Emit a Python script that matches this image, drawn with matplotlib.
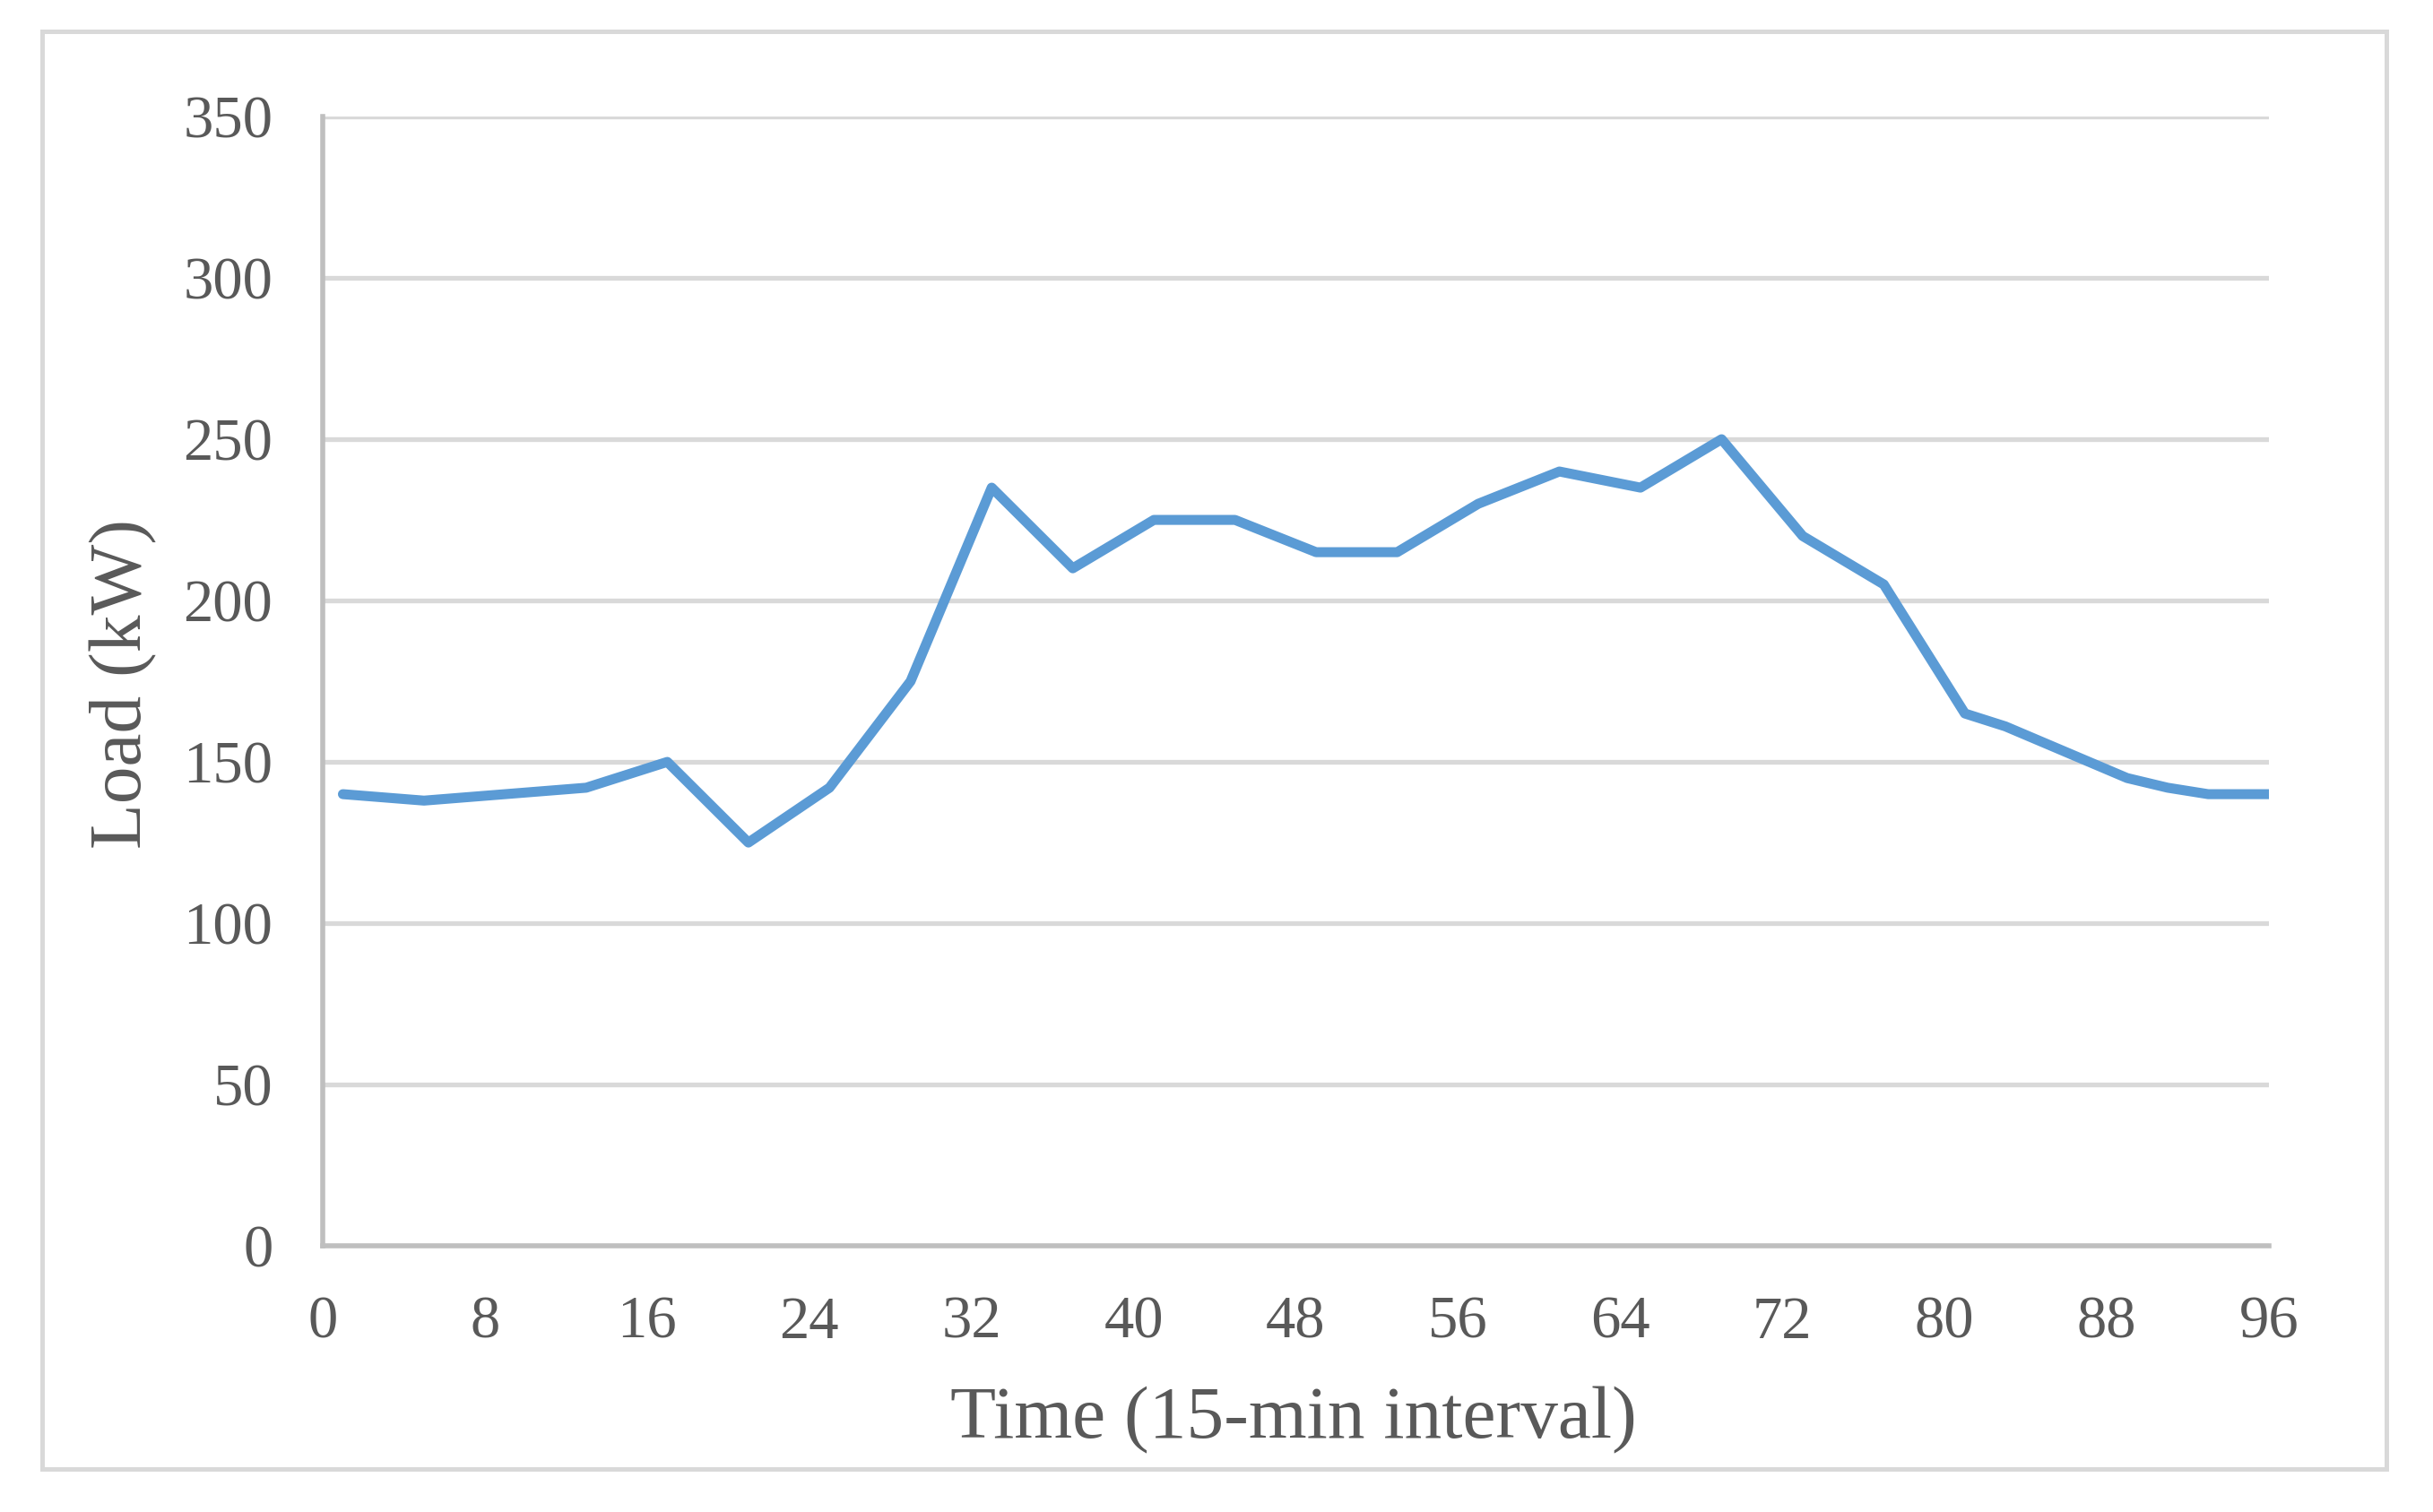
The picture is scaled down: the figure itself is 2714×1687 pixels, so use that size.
import matplotlib
matplotlib.use("Agg")
import matplotlib.pyplot as plt
from matplotlib.patches import Rectangle

# Data
time_idx = [1, 5, 9, 13, 17, 21, 25, 29, 33, 37, 41, 45, 49, 53, 57, 61, 65, 69,
            73, 77, 81, 83, 89, 91, 93, 96]
load_kw = [140, 138, 140, 142, 150, 125, 142, 175, 235, 210, 225, 225, 215, 215,
           230, 240, 235, 250, 220, 205, 165, 161, 145, 142, 140, 140]
x_ticks = [0, 8, 16, 24, 32, 40, 48, 56, 64, 72, 80, 88, 96]
y_ticks = [0, 50, 100, 150, 200, 250, 300, 350]

plt.rcParams['font.family'] = ['Liberation Serif', 'DejaVu Serif']

fig = plt.figure(figsize=(13.57, 8.435), dpi=200)
ax = fig.add_axes([0.1326, 0.176, 0.80, 0.7469])

ax.plot(time_idx, load_kw, color='#5B9BD5', lw=4.0, solid_joinstyle='round',
        solid_capstyle='round', zorder=3)

ax.set_xlim(0, 96)
ax.set_ylim(0, 350)
ax.set_xticks(x_ticks)
ax.set_yticks(y_ticks)
ax.grid(axis='y', color='#D9D9D9', lw=1.9, zorder=0)
ax.set_axisbelow(True)
ax.tick_params(length=0, labelsize=24, colors='#595959')
ax.tick_params(axis='y', pad=20)
ax.tick_params(axis='x', pad=20)

for s in ['top', 'right']:
    ax.spines[s].set_visible(False)
for s in ['left', 'bottom']:
    ax.spines[s].set_color('#BFBFBF')
    ax.spines[s].set_linewidth(2.0)
    ax.spines[s].set_zorder(2)

ax.set_xlabel('Time (15-min interval)', fontsize=30, color='#595959')
ax.set_ylabel('Load (kW)', fontsize=30, color='#595959')
ax.xaxis.set_label_coords(0.499, -0.154)
ax.yaxis.set_label_coords(-0.1025, 0.498)
ax.xaxis.label.set_va('center')
ax.yaxis.label.set_va('center')

fig.patches.append(Rectangle((0.0173, 0.0285), 0.9635, 0.9505, transform=fig.transFigure,
                             fill=False, edgecolor='#D9D9D9', lw=1.8))

fig.savefig('out.png', dpi=200, facecolor='white')
